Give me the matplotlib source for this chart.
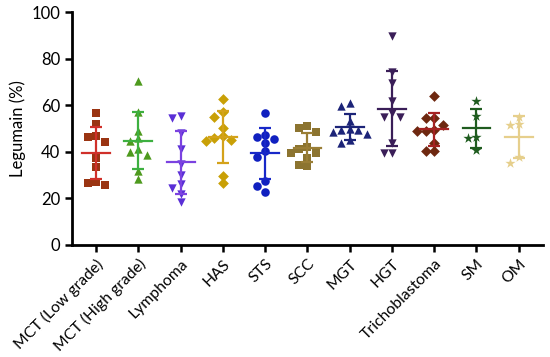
import matplotlib.pyplot as plt
import numpy as np

plt.rcParams['font.family'] = ['Lato', 'DejaVu Sans']

groups = ["MCT (Low grade)", "MCT (High grade)", "Lymphoma", "HAS", "STS", "SCC",
          "MGT", "HGT", "Trichoblastoma", "SM", "OM"]

mct_low = [56.8, 51.8, 46.8, 46.4, 44.3, 37.2, 33.6, 27.2, 26.7, 25.8]
mct_high = [70.5, 57.2, 49.1, 45.9, 44.6, 39.8, 41.3, 38.6, 31.8, 28.3]
lymphoma = [55.4, 54.4, 48.2, 41.1, 34.6, 26.2, 30.0, 24.6, 21.8, 18.3]
has = [62.5, 57.0, 55.0, 50.4, 46.0, 45.0, 44.6, 47.0, 29.6, 26.5]
sts = [56.5, 47.2, 46.5, 45.3, 43.9, 40.5, 37.6, 27.6, 25.5, 22.6]
scc = [51.1, 50.2, 48.4, 42.2, 41.2, 39.4, 39.4, 37.2, 34.0, 34.5]
mgt = [60.8, 59.8, 53.2, 50.0, 49.4, 49.4, 48.6, 47.6, 45.0, 43.6]
hgt = [89.8, 74.4, 69.4, 61.9, 54.8, 54.8, 56.5, 43.6, 39.4, 39.6]
tricho = [64.1, 54.4, 54.4, 51.5, 49.1, 49.1, 49.4, 43.6, 40.5, 40.5]
sm = [61.9, 55.5, 46.5, 45.8, 40.8]
om = [55.1, 51.9, 51.5, 37.9, 35.1]

data = [mct_low, mct_high, lymphoma, has, sts, scc, mgt, hgt, tricho, sm, om]

# marker colour, bar colour, marker
styles = [
    ("#9A3412", "#D0302A", "s"),
    ("#4E9A1E", "#3DB040", "^"),
    ("#5A2FD6", "#7B42E0", "v"),
    ("#C9A006", "#D4A21A", "D"),
    ("#1020C0", "#1828C8", "o"),
    ("#8C7430", "#9A7E36", "s"),
    ("#1C2478", "#1C2478", "^"),
    ("#3A1E58", "#3A1E58", "v"),
    ("#6E2810", "#A52222", "D"),
    ("#1F5C1F", "#1F5C1F", "*"),
    ("#E6CF8C", "#E6CF8C", "*"),
]


def swarm(vals, dx=0.2, rx=0.17, ry=3.0):
    # simple beeswarm: put each point at the first free column
    order = np.argsort(vals)[::-1]
    placed = []
    offs = np.zeros(len(vals))
    for i in order:
        for o in [0, -dx, dx, -2 * dx, 2 * dx]:
            ok = True
            for (px, py) in placed:
                if ((o - px) / rx) ** 2 + ((vals[i] - py) / ry) ** 2 < 1:
                    ok = False
                    break
            if ok:
                break
        offs[i] = o
        placed.append((o, vals[i]))
    return offs


fig = plt.figure(figsize=(5.5, 3.57), dpi=100)
ax = fig.add_axes([0.131, 0.314, 0.856, 0.652])

for i, vals in enumerate(data):
    v = np.array(vals)
    mc, bc, mk = styles[i]
    offs = swarm(v)
    ms = {"*": 60, "D": 30, "o": 38}.get(mk, 36)
    ax.scatter(i + offs, v, s=ms, marker=mk, color=mc, zorder=3, linewidths=0)
    m = v.mean()
    sd = v.std(ddof=1)
    ax.plot([i - 0.33, i + 0.33], [m, m], color=bc, lw=1.6, zorder=4)
    ax.errorbar(i, m, yerr=sd, color=bc, lw=1.6, capsize=4, capthick=1.6, zorder=4)

ax.set_xlim(-0.57, 10.57)
ax.set_ylim(0, 100)
ax.set_yticks([0, 20, 40, 60, 80, 100])
ax.set_xticks(range(len(groups)))
ax.set_xticklabels(groups, rotation=45, ha="right", rotation_mode="anchor", fontsize=11.3)
ax.tick_params(axis="y", labelsize=12, width=1.8, length=5)
ax.tick_params(axis="x", width=1.8, length=5)
ax.set_ylabel("Legumain (%)", fontsize=12)
for s in ["top", "right"]:
    ax.spines[s].set_visible(False)
for s in ["left", "bottom"]:
    ax.spines[s].set_linewidth(2)

fig.savefig("out.png", dpi=100)
